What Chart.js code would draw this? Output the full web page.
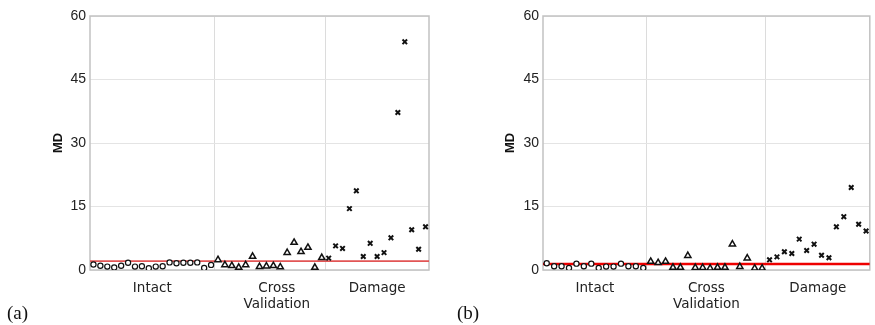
<!DOCTYPE html>
<html>
<head>
<meta charset="utf-8">
<script src="https://cdn.jsdelivr.net/npm/chart.js@4/dist/chart.umd.min.js"></script>
<style>
  body { margin: 0; background: #fff; }
  #wrap { position: relative; width: 875px; height: 325px; overflow: hidden; }
  canvas { position: absolute; top: 0; }
  #ca { left: 0; }
  #cb { left: 437px; }
  .tag { position: absolute; top: 302px; font: 19px "Liberation Serif", "Times New Roman", serif; color: #111; }
</style>
</head>
<body>
<div id="wrap">
  <canvas id="ca" width="437" height="325"></canvas>
  <canvas id="cb" width="438" height="325"></canvas>
  <div class="tag" style="left:7px">(a)</div>
  <div class="tag" style="left:457px">(b)</div>
</div>
<script>
// ── Data ────────────────────────────────────────────────────────
const groupLabels = ['Intact', ['Cross', 'Validation'], 'Damage'];
const yTicks = [0, 15, 30, 45, 60];

// panel (a)
const intactA = [1.3, 1.0, 0.8, 0.6, 1.0, 1.7, 0.8, 0.9, 0.4, 0.8, 0.9, 1.8, 1.6, 1.7, 1.7, 1.8, 0.5, 1.2];
const cvA = [2.4, 1.2, 1.0, 0.6, 1.2, 3.2, 0.8, 0.9, 1.0, 0.7, 4.1, 6.5, 4.3, 5.3, 0.6, 2.9];
const damageA = [2.8, 5.7, 5.1, 14.5, 18.7, 3.2, 6.3, 3.2, 4.1, 7.6, 37.2, 53.9, 9.5, 4.9, 10.2];
const thresholdA = 2.1;

// panel (b)
const intactB = [1.6, 0.9, 0.9, 0.5, 1.5, 0.9, 1.5, 0.5, 0.8, 0.8, 1.5, 0.9, 0.9, 0.5];
const cvB = [2.0, 1.7, 2.0, 0.6, 0.6, 3.4, 0.55, 0.55, 0.4, 0.6, 0.6, 6.1, 0.8, 2.8, 0.4, 0.4];
const damageB = [2.4, 3.1, 4.3, 3.9, 7.3, 4.6, 6.1, 3.5, 2.9, 10.2, 12.6, 19.5, 10.8, 9.2];
const thresholdB = 1.4;

// draws the grey box around the plot area
const framePlugin = {
  id: 'frame',
  beforeDatasetsDraw(chart) {
    const { ctx, chartArea: a } = chart;
    ctx.save();
    ctx.strokeStyle = '#c2c2c2';
    ctx.lineWidth = 1.5;
    ctx.strokeRect(a.left, a.top, a.right - a.left, a.bottom - a.top);
    ctx.restore();
  }
};

const makePanel = (id, groups, threshold, opts) => {
  const [intact, cv, damage] = groups;
  const n = intact.length + cv.length + damage.length;
  const b1 = intact.length, b2 = intact.length + cv.length;
  const pts = (arr, start) => arr.map((y, i) => ({ x: start + i + 0.5, y }));
  const labelPos = [b1 / 2 + opts.labelShift[0], (b1 + b2) / 2 + opts.labelShift[1], (b2 + n) / 2 + opts.labelShift[2]];
  const mark = { borderColor: '#111', backgroundColor: '#fff', pointHoverRadius: 0 };

  new Chart(document.getElementById(id), {
    type: 'scatter',
    data: {
      datasets: [
        { ...mark, data: pts(intact, 0), pointStyle: 'circle', pointRadius: 2.6, borderWidth: 1.2, order: 0 },
        { ...mark, data: pts(cv, b1), pointStyle: 'triangle', pointRadius: 3.6, borderWidth: 1.5, order: 0 },
        { ...mark, data: pts(damage, b2), pointStyle: 'crossRot', pointRadius: 3.2, borderWidth: 2, order: 0 },
        { type: 'line', data: [{ x: 0, y: threshold }, { x: n, y: threshold }], borderColor: opts.lineColor,
          borderWidth: opts.lineWidth, pointRadius: 0, order: 1 }
      ]
    },
    options: {
      responsive: false,
      animation: false,
      layout: { padding: { left: opts.padLeft, right: opts.padRight, top: 16, bottom: 0 } },
      plugins: { legend: { display: false }, tooltip: { enabled: false } },
      scales: {
        x: {
          type: 'linear', position: 'bottom', min: 0, max: n,
          afterBuildTicks: ax => { ax.ticks = labelPos.map(v => ({ value: v })); },
          afterFit: ax => { ax.height = 55; },
          ticks: { autoSkip: false, maxRotation: 0, padding: 2, color: '#222',
                   font: { family: 'DejaVu Sans', size: 13.5 }, callback: (v, i) => groupLabels[i] },
          grid: { display: false },
          border: { display: false }
        },
        xGrid: {
          type: 'linear', position: 'bottom', min: 0, max: n,
          afterBuildTicks: ax => { ax.ticks = [b1, b2].map(v => ({ value: v })); },
          afterFit: ax => { ax.height = 0; },
          ticks: { display: false },
          grid: { color: '#dcdcdc', lineWidth: 1, drawTicks: false },
          border: { display: false }
        },
        y: {
          min: 0, max: 60,
          afterBuildTicks: ax => { ax.ticks = yTicks.map(v => ({ value: v })); },
          afterFit: ax => { ax.width = opts.axisWidth; },
          ticks: { padding: 4, color: '#222', font: { family: 'Liberation Sans', size: 14 } },
          grid: { color: '#e4e4e4', lineWidth: 1, drawTicks: false },
          border: { display: false },
          title: { display: true, text: 'MD', color: '#111', padding: { top: 4, bottom: 0 },
                   font: { family: 'Liberation Sans', size: 13, weight: 'bold' } }
        }
      }
    },
    plugins: [framePlugin]
  });
};

makePanel('ca', [intactA, cvA, damageA], thresholdA,
  { padLeft: 47, axisWidth: 43, padRight: 8, labelShift: [0, 1, 0], lineColor: '#e25555', lineWidth: 1.6 });
makePanel('cb', [intactB, cvB, damageB], thresholdB,
  { padLeft: 62, axisWidth: 44, padRight: 1, labelShift: [0, 0, 0], lineColor: '#ee0000', lineWidth: 2.6 });
</script>
</body>
</html>
